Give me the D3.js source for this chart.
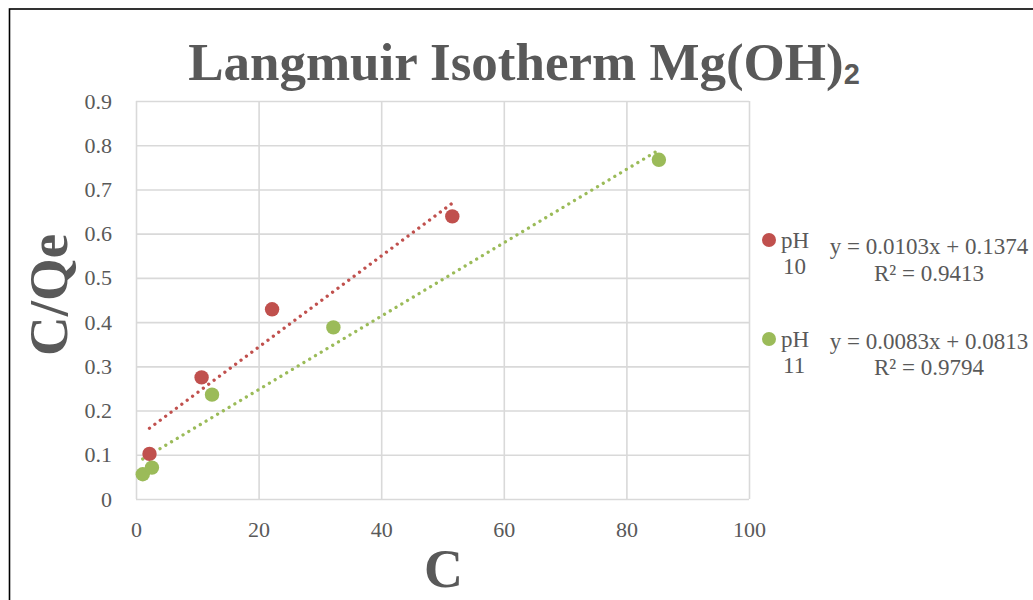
<!DOCTYPE html>
<html>
<head>
<meta charset="utf-8">
<script src="https://cdn.jsdelivr.net/npm/d3@7"></script>
<style>
  html, body { margin: 0; padding: 0; background: #fff; }
  svg { display: block; }
  text { font-family: "Liberation Serif", "Times New Roman", serif; fill: #595959; }
</style>
</head>
<body>
<svg id="chart" width="1033" height="600"></svg>
<script>
// ---- data ----
const seriesNames = ["pH 10", "pH 11"];
const pH10_x = [2.2, 10.7, 22.2, 51.6];
const pH10_y = [0.102, 0.275, 0.429, 0.639];
const pH11_x = [1.1, 2.6, 12.4, 32.2, 85.3];
const pH11_y = [0.056, 0.071, 0.236, 0.388, 0.767];
const slopes = [0.0103, 0.0083];
const intercepts = [0.1374, 0.0813];
const rSquared = [0.9413, 0.9794];
const colors = ["#C0504D", "#9BBB59"];
const xTicks = [0, 20, 40, 60, 80, 100];
const yTicks = [0, 0.1, 0.2, 0.3, 0.4, 0.5, 0.6, 0.7, 0.8, 0.9];
const titleText = "Langmuir Isotherm Mg(OH)";
const titleSub = "2";
const xLabel = "C";
const yLabel = "C/Qe";

const series = [
  { name: seriesNames[0], xs: pH10_x, ys: pH10_y, slope: slopes[0], intercept: intercepts[0], r2: rSquared[0], color: colors[0] },
  { name: seriesNames[1], xs: pH11_x, ys: pH11_y, slope: slopes[1], intercept: intercepts[1], r2: rSquared[1], color: colors[1] }
];

const svg = d3.select("#chart");
const plot = { left: 136, right: 749, top: 101, bottom: 499 };
const x = d3.scaleLinear().domain([0, 100]).range([plot.left, plot.right]);
const y = d3.scaleLinear().domain([0, 0.9]).range([plot.bottom, plot.top]);

// outer border
svg.append("rect").attr("x", 9.5).attr("y", 9).attr("width", 1200).attr("height", 800)
  .attr("fill", "none").attr("stroke", "#000").attr("stroke-width", 1.6);

// gridlines
const gridColor = "#d9d9d9";
const gy = svg.append("g").attr("transform", `translate(${plot.left},0)`)
  .call(d3.axisLeft(y).tickValues(yTicks).tickSize(-(plot.right - plot.left)).tickFormat(""));
gy.select(".domain").remove();
gy.selectAll("line").attr("stroke", gridColor).attr("stroke-width", 1.6);

const gx = svg.append("g").attr("transform", `translate(0,${plot.bottom})`)
  .call(d3.axisBottom(x).tickValues(xTicks).tickSize(-(plot.bottom - plot.top)).tickFormat(""));
gx.select(".domain").remove();
gx.selectAll("line").attr("stroke", gridColor).attr("stroke-width", 1.6);

// tick labels
const yl = svg.append("g").attr("transform", `translate(${plot.left},0)`)
  .call(d3.axisLeft(y).tickValues(yTicks).tickSize(0).tickPadding(24)
    .tickFormat(d => d === 0 ? "0" : d3.format(".1f")(d)));
yl.select(".domain").remove();
yl.selectAll("text").style("font-family", "'Liberation Serif', serif").style("font-size", "22px").attr("fill", "#595959");

const xl = svg.append("g").attr("transform", `translate(0,${plot.bottom})`)
  .call(d3.axisBottom(x).tickValues(xTicks).tickSize(0).tickFormat(d3.format("d")));
xl.select(".domain").remove();
xl.selectAll("text").attr("dy", null).attr("y", 38)
  .style("font-family", "'Liberation Serif', serif").style("font-size", "22px").attr("fill", "#595959");

// trendlines
const line = d3.line().x(d => x(d[0])).y(d => y(d[1]));
series.forEach(s => {
  const x0 = d3.min(s.xs), x1 = d3.max(s.xs);
  const pts = [[x0, s.slope * x0 + s.intercept], [x1, s.slope * x1 + s.intercept]];
  svg.append("path").datum(pts).attr("d", line)
    .attr("fill", "none").attr("stroke", s.color).attr("stroke-width", 3.3)
    .attr("stroke-linecap", "round").attr("stroke-dasharray", "0.01 6.7");
});

// points
series.forEach(s => {
  svg.append("g").selectAll("circle").data(s.xs.map((v, i) => [v, s.ys[i]])).join("circle")
    .attr("cx", d => x(d[0])).attr("cy", d => y(d[1])).attr("r", 7.2)
    .attr("fill", s.color);
});

// title
const t = svg.append("text").attr("x", 524).attr("y", 80).attr("text-anchor", "middle")
  .style("font-size", "53px").style("font-weight", "bold");
t.append("tspan").text(titleText);
t.append("tspan").text(titleSub).attr("dy", 4)
  .style("font-family", "'Liberation Sans', sans-serif").style("font-size", "29px");

// axis titles
svg.append("text").attr("x", x(50) + 1).attr("y", 587).attr("text-anchor", "middle")
  .style("font-size", "54px").style("font-weight", "bold").text(xLabel);
svg.append("text").attr("transform", "translate(67,295) rotate(-90)").attr("text-anchor", "middle")
  .style("font-size", "55px").style("font-weight", "bold").text(yLabel);

// legend
const legendRows = [
  { dotY: 240, phY: 248, eqY: 254, r2Y: 281 },
  { dotY: 339, phY: 347, eqY: 349, r2Y: 375 }
];
series.forEach((s, i) => {
  const r = legendRows[i];
  const parts = s.name.split(" ");
  svg.append("circle").attr("cx", 769).attr("cy", r.dotY).attr("r", 7).attr("fill", s.color);
  svg.append("text").attr("x", 781).attr("y", r.phY).style("font-size", "23px").text(parts[0]);
  svg.append("text").attr("x", 783).attr("y", r.phY + 26).style("font-size", "23px").text(parts[1]);
  const eq = `y = ${s.slope.toFixed(4)}x + ${s.intercept.toFixed(4)}`;
  svg.append("text").attr("x", 929).attr("y", r.eqY).attr("text-anchor", "middle")
    .style("font-size", "23px").text(eq);
  svg.append("text").attr("x", 929).attr("y", r.r2Y).attr("text-anchor", "middle")
    .style("font-size", "23px").text(`R² = ${s.r2.toFixed(4)}`);
});
</script>
</body>
</html>
